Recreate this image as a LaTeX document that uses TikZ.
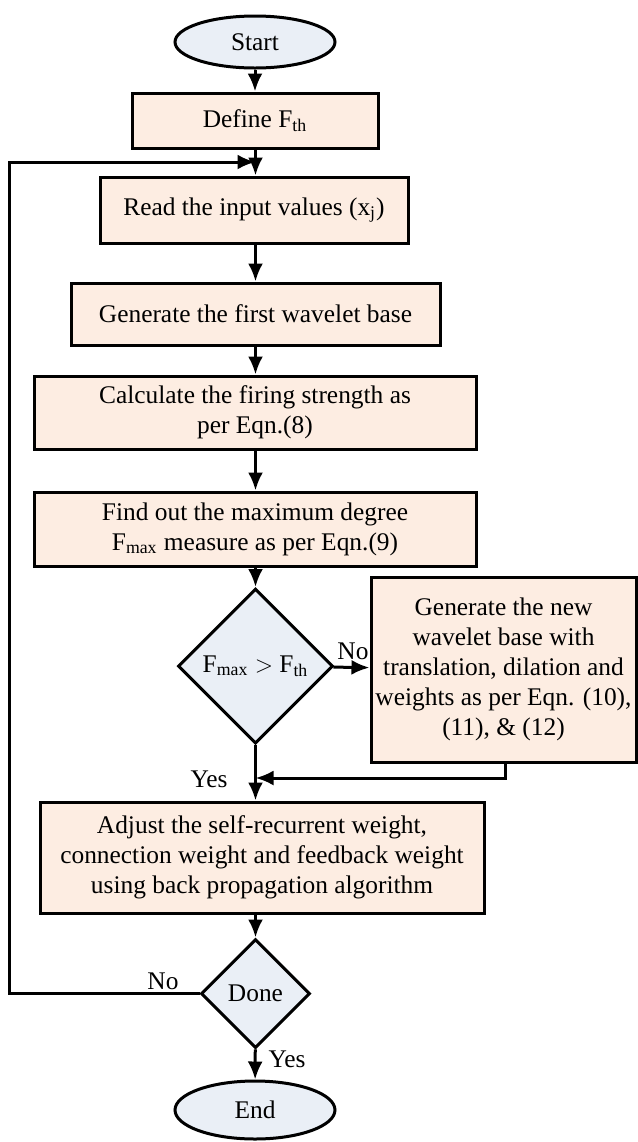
\documentclass[tikz,border=0pt]{standalone}
\usepackage{fontspec}
\setmainfont{Liberation Serif}
\usetikzlibrary{arrows.meta,shapes,positioning}
\definecolor{boxfill}{RGB}{253,237,226}
\definecolor{termfill}{RGB}{234,239,246}
\tikzset{
    basic/.style    = {draw, line width=1.5pt, align=center, font=\fontsize{12.7}{15}\selectfont, inner sep=1.5pt},
    process/.style  = {basic, rectangle, fill=boxfill},
    terminal/.style = {basic, ellipse, fill=termfill, minimum width=80pt, minimum height=26pt},
    decision/.style = {basic, diamond, fill=termfill, aspect=1},
    tag/.style      = {font=\fontsize{12.7}{15}\selectfont, inner sep=1pt}
}

\begin{document}
\begin{tikzpicture}[x=0.5pt, y=-0.5pt, >={Latex[length=9pt,width=7.5pt]}, line width=1.5pt]
	\useasboundingbox (0,0) rectangle (638,1142);
		\node[terminal] (start) at (255,42) {Start};
		\node[process, minimum width=123pt, minimum height=27.5pt] (define) at (255,120.5) {Define F\textsubscript{th}};
		\node[process, minimum width=154pt, minimum height=33pt] (read) at (254,210) {Read the input values (x\textsubscript{j})};
		\node[process, minimum width=184.5pt, minimum height=31pt] (first) at (255.5,314) {Generate the first wavelet base};
		\node[process, minimum width=221pt, minimum height=36.5pt] (firing) at (255,412.5) {Calculate the firing strength as\\per Eqn.(8)};
		\node[process, minimum width=221pt, minimum height=37pt] (degree) at (255,529) {Find out the maximum degree\\F\textsubscript{max} measure as per Eqn.(9)};
		\node[decision, minimum width=77.5pt, minimum height=77.5pt] (check) at (255.5,666) {F\textsubscript{max} $>$ F\textsubscript{th}};
		\node[process, minimum width=132.5pt, minimum height=92.5pt] (newbase) at (503.5,669.5) {Generate the new\\wavelet base with\\translation, dilation and\\weights as per Eqn. (10),\\(11), \& (12)};
		\node[process, minimum width=222pt, minimum height=55.5pt] (adjust) at (262,857.5) {Adjust the self-recurrent weight,\\connection weight and feedback weight\\using back propagation algorithm};
		\node[decision, minimum width=54.5pt, minimum height=54.5pt] (done) at (255.5,993.5) {Done};
		\node[terminal, minimum height=29pt] (end) at (255,1110) {End};
		\coordinate (loop) at (255.5,162);
		\coordinate (merge) at (255.5,778);
		% main flow
		\draw[->] (start) -- (define);
		\draw[->] (define.south -| check) -- (read.north -| check);
		\draw[->] (read.south -| check) -- (first.north -| check);
		\draw[->] (first.south -| check) -- (firing.north -| check);
		\draw[->] (firing.south -| check) -- (degree.north -| check);
		\draw[->] (degree.south -| check) -- (check);
		\draw[->] (check) -- (newbase);
		\draw[->] (newbase.south -| 505,0) |- (merge);
		\draw[->] (check) -- (adjust.north -| check);
		\draw[->] (adjust.south -| done) -- (done);
		\draw[->] (done) -- (end);
		\draw[->] (done.west) -| (9,162) -- (loop);
		% labels
		\node[tag] (no1) at (353,651) {No};
		\node[tag] (yes1) at (209,779) {Yes};
		\node[tag] (no2) at (163,981) {No};
		\node[tag] (yes2) at (287,1059) {Yes};
	\end{tikzpicture}
\end{document}
